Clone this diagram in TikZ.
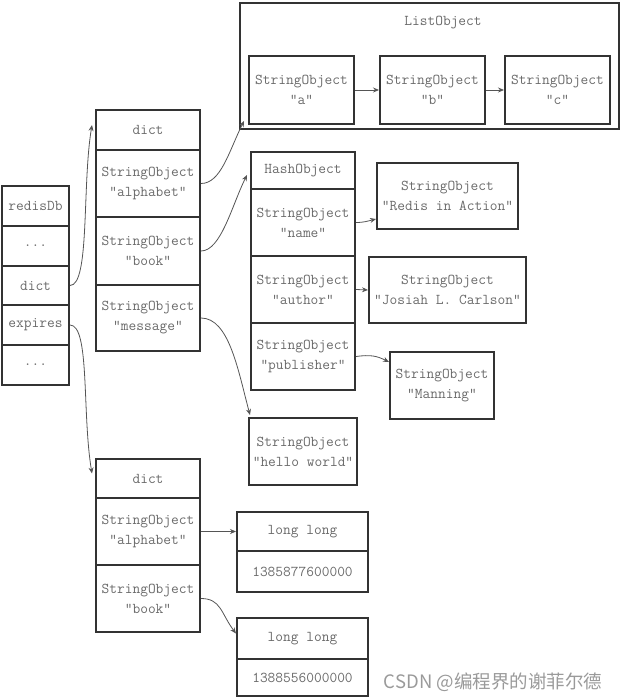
\documentclass[tikz,border=0pt]{standalone}
\usepackage{fontspec}
\newfontfamily\cjk{Noto Sans CJK SC}
\usetikzlibrary{arrows.meta}
\definecolor{boxcol}{HTML}{333333}
\definecolor{txtcol}{HTML}{6A6A6A}
\definecolor{arrcol}{HTML}{555555}
\definecolor{wmcol}{HTML}{9A9A9A}
\begin{document}
\begin{tikzpicture}[x=1pt,y=-1pt,
  cell/.style={draw=boxcol,line width=2pt,text=txtcol,align=center,inner sep=0pt,
    font=\ttfamily\fontsize{15}{20}\selectfont},
  lbl/.style={text=txtcol,inner sep=0pt,font=\ttfamily\fontsize{15}{20}\selectfont},
  conn/.style={draw=arrcol,line width=0.8pt,-{Stealth[length=6pt,width=5pt]}}]
\useasboundingbox (0,0) rectangle (623,698);
% redisDb column
\begin{scope}[every node/.style={cell,minimum width=67pt}]
\node[minimum height=40pt] (r0) at (35.5,206) {redisDb};
\node[minimum height=40pt] (r1) at (35.5,246) {...};
\node[minimum height=39pt] (r2) at (35.5,285.5) {dict};
\node[minimum height=40pt] (r3) at (35.5,325) {expires};
\node[minimum height=40pt] (r4) at (35.5,365) {...};
\end{scope}
% dict 1
\begin{scope}[every node/.style={cell,minimum width=104pt}]
\node[minimum height=40pt] (d0) at (148,130) {dict};
\node[minimum height=67pt] (d1) at (148,183.5) {StringObject\\"alphabet"};
\node[minimum height=68pt] (d2) at (148,251) {StringObject\\"book"};
\node[minimum height=66pt] (d3) at (148,318) {StringObject\\"message"};
\end{scope}
% ListObject
\node[cell,minimum width=379pt,minimum height=126pt] (list) at (429.5,66) {};
\node[lbl] (listlbl) at (443,23) {ListObject};
\begin{scope}[every node/.style={cell,minimum width=105pt,minimum height=68pt}]
\node (la) at (301.5,90) {StringObject\\"a"};
\node (lb) at (432.5,90) {StringObject\\"b"};
\node (lc) at (557.5,90) {StringObject\\"c"};
\end{scope}
% HashObject
\begin{scope}[every node/.style={cell,minimum width=104pt}]
\node[minimum height=37pt] (h0) at (303,170.5) {HashObject};
\node[minimum height=67pt] (h1) at (303,222.5) {StringObject\\"name"};
\node[minimum height=67pt] (h2) at (303,289.5) {StringObject\\"author"};
\node[minimum height=67pt] (h3) at (303,356.5) {StringObject\\"publisher"};
\end{scope}
\node[cell,minimum width=141pt,minimum height=66pt] (redis) at (447.5,196) {StringObject\\"Redis in Action"};
\node[cell,minimum width=157pt,minimum height=66pt] (josiah) at (447.5,290) {StringObject\\"Josiah L. Carlson"};
\node[cell,minimum width=104pt,minimum height=67pt] (manning) at (442,385.5) {StringObject\\"Manning"};
\node[cell,minimum width=108pt,minimum height=67pt] (hello) at (303,451.5) {StringObject\\"hello world"};
% dict 2
\begin{scope}[every node/.style={cell,minimum width=104pt}]
\node[minimum height=39pt] (e0) at (148,478.5) {dict};
\node[minimum height=67pt] (e1) at (148,531.5) {StringObject\\"alphabet"};
\node[minimum height=67pt] (e2) at (148,598.5) {StringObject\\"book"};
\end{scope}
% long long
\begin{scope}[every node/.style={cell,minimum width=131pt}]
\node[minimum height=39pt] (l1a) at (302.5,531.5) {long long};
\node[minimum height=41pt] (l1b) at (302.5,571.5) {1385877600000};
\node[minimum height=41pt] (l2a) at (302.5,638.5) {long long};
\node[minimum height=37pt] (l2b) at (302.5,677.5) {1388556000000};
\end{scope}
% watermark
\node[text=wmcol,inner sep=0pt,font=\cjk\fontsize{18.5}{20}\selectfont] (wm) at (493,682) {CSDN @编程界的谢菲尔德};
% connectors
\draw[conn] (r2.east) .. controls +(20,0) and +(-10,60) .. ([shift={(-3,-5)}]d0.west);
\draw[conn] (r3.east) .. controls +(20,0) and +(-10,-60) .. ([shift={(-3,-5)}]e0.west);
\draw[conn] (d1.east) .. controls +(20,0) and +(-15,30) .. ([shift={(5,-9)}]list.south west);
\draw[conn] (d2.east) .. controls +(20,0) and +(-15,30) .. ([shift={(-3,4.5)}]h0.west);
\draw[conn] (d3.east) .. controls +(28,0) and +(-12,-45) .. ([shift={(2,-2)}]hello.north west);
\draw[conn] (h1.east) .. controls +(8,0) and +(-8,2) .. ([shift={(0,-11)}]redis.south west);
\draw[conn] (h2.east) -- (josiah.west);
\draw[conn] (h3.east) .. controls +(15,-2) and +(-12,-6) .. ([shift={(0,11)}]manning.north west);
\draw[conn] (la.east) -- (lb.west);
\draw[conn] (lb.east) -- (lc.west);
\draw[conn] (e1.east) -- (l1a.west);
\draw[conn] (e2.east) .. controls +(20,0) and +(-15,-20) .. ([shift={(0,-5)}]l2a.west);
\end{tikzpicture}
\end{document}
